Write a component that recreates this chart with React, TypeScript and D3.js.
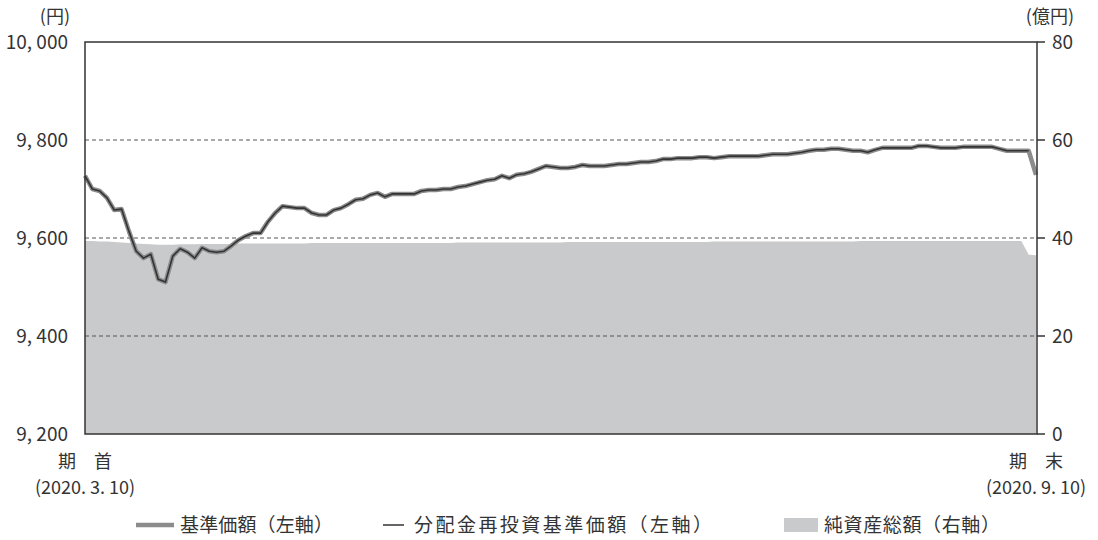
import { useEffect, useRef } from "react";
import * as d3 from "d3";

// 基準価額（円）
const navBase = [
  9727, 9700, 9696, 9682, 9657, 9659, 9614, 9573, 9559, 9567,
  9516, 9510, 9563, 9578, 9571, 9559, 9580, 9573, 9571, 9573,
  9584, 9596, 9604, 9610, 9610, 9633, 9651, 9665, 9663, 9661,
  9661, 9651, 9647, 9647, 9657, 9661, 9669, 9678, 9680, 9688,
  9692, 9684, 9690, 9690, 9690, 9690, 9696, 9698, 9698, 9700,
  9700, 9704, 9706, 9710, 9714, 9718, 9720, 9727, 9722, 9729,
  9731, 9735, 9741, 9747, 9745, 9743, 9743, 9745, 9749, 9747,
  9747, 9747, 9749, 9751, 9751, 9753, 9755, 9755, 9757, 9761,
  9761, 9763, 9763, 9763, 9765, 9765, 9763, 9765, 9767, 9767,
  9767, 9767, 9767, 9769, 9771, 9771, 9771, 9773, 9775, 9778,
  9780, 9780, 9782, 9782, 9780, 9778, 9778, 9775, 9780, 9784,
  9784, 9784, 9784, 9784, 9788, 9788, 9786, 9784, 9784, 9784,
  9786, 9786, 9786, 9786, 9786, 9782, 9778, 9778, 9778, 9778,
  9729
];

// 分配金再投資基準価額（円）
const navReinvested = [
  9727, 9700, 9696, 9682, 9657, 9659, 9614, 9573, 9559, 9567,
  9516, 9510, 9563, 9578, 9571, 9559, 9580, 9573, 9571, 9573,
  9584, 9596, 9604, 9610, 9610, 9633, 9651, 9665, 9663, 9661,
  9661, 9651, 9647, 9647, 9657, 9661, 9669, 9678, 9680, 9688,
  9692, 9684, 9690, 9690, 9690, 9690, 9696, 9698, 9698, 9700,
  9700, 9704, 9706, 9710, 9714, 9718, 9720, 9727, 9722, 9729,
  9731, 9735, 9741, 9747, 9745, 9743, 9743, 9745, 9749, 9747,
  9747, 9747, 9749, 9751, 9751, 9753, 9755, 9755, 9757, 9761,
  9761, 9763, 9763, 9763, 9765, 9765, 9763, 9765, 9767, 9767,
  9767, 9767, 9767, 9769, 9771, 9771, 9771, 9773, 9775, 9778,
  9780, 9780, 9782, 9782, 9780, 9778, 9778, 9775, 9780, 9784,
  9784, 9784, 9784, 9784, 9788, 9788, 9786, 9784, 9784, 9784,
  9786, 9786, 9786, 9786, 9786, 9782, 9778, 9778, 9778, 9778
];

// 純資産総額（億円）
const netAssets = [
  39.4, 39.4, 39.3, 39.3, 39.2, 39.1, 39.0, 38.9, 38.8, 38.7,
  38.6, 38.6, 38.6, 38.7, 38.7, 38.7, 38.8, 38.8, 38.8, 38.8,
  38.8, 38.9, 38.9, 38.9, 38.9, 38.9, 38.9, 38.9, 38.9, 38.9,
  38.9, 39.0, 39.0, 39.0, 39.0, 39.0, 39.0, 39.0, 39.0, 39.0,
  39.0, 39.0, 39.0, 39.0, 39.0, 39.0, 39.0, 39.0, 39.0, 39.0,
  39.0, 39.1, 39.1, 39.1, 39.1, 39.1, 39.1, 39.1, 39.1, 39.1,
  39.1, 39.1, 39.1, 39.1, 39.1, 39.1, 39.2, 39.2, 39.2, 39.2,
  39.2, 39.2, 39.2, 39.2, 39.2, 39.2, 39.2, 39.2, 39.2, 39.2,
  39.2, 39.2, 39.2, 39.2, 39.2, 39.2, 39.3, 39.3, 39.3, 39.3,
  39.3, 39.3, 39.3, 39.3, 39.3, 39.3, 39.3, 39.3, 39.3, 39.3,
  39.3, 39.3, 39.3, 39.3, 39.3, 39.3, 39.4, 39.4, 39.4, 39.4,
  39.4, 39.4, 39.4, 39.4, 39.4, 39.4, 39.4, 39.4, 39.4, 39.4,
  39.4, 39.4, 39.4, 39.4, 39.4, 39.4, 39.4, 39.4, 39.4, 36.6,
  36.5
];

const leftTicks = [9200, 9400, 9600, 9800, 10000];
const leftTickLabels = ["9, 200", "9, 400", "9, 600", "9, 800", "10, 000"];
const rightTicks = [0, 20, 40, 60, 80];
const gridTicks = [9400, 9600, 9800];
const leftUnit = "(円)";
const rightUnit = "(億円)";
const startLabels = ["期　首", "(2020. 3. 10)"];
const endLabels = ["期　末", "(2020. 9. 10)"];
const legendLabels = ["基準価額（左軸）", "分配金再投資基準価額（左軸）", "純資産総額（右軸）"];

const App = () => {
  const svgRef = useRef<SVGSVGElement | null>(null);

  useEffect(() => {
    const svg = d3.select(svgRef.current);
    svg.selectAll("*").remove();

    const width = 1098;
    const height = 540;
    const left = 85;
    const right = 1037;
    const top = 42;
    const bottom = 434;
    const font = "'Noto Sans CJK JP', 'Noto Sans', sans-serif";
    const textColor = "#333";
    const areaColor = "#c9cacc";
    const baseColor = "#8c8c8c";

    svg.attr("width", width).attr("height", height);

    const x = d3.scaleLinear().domain([0, navBase.length - 1]).range([left, 1036]);
    const yL = d3.scaleLinear().domain([9200, 10000]).range([bottom, top]);
    const yR = d3.scaleLinear().domain([0, 80]).range([bottom, top]);

    // 純資産総額
    const area = d3.area<number>()
      .x((_, i) => x(i))
      .y0(yR(0))
      .y1(d => yR(d));
    svg.append("path")
      .datum(netAssets)
      .attr("d", area)
      .attr("fill", areaColor);

    // グリッド
    svg.selectAll("line.grid")
      .data(gridTicks)
      .enter()
      .append("line")
      .attr("class", "grid")
      .attr("x1", left)
      .attr("x2", right)
      .attr("y1", d => yL(d))
      .attr("y2", d => yL(d))
      .attr("stroke", "#555")
      .attr("stroke-width", 1)
      .attr("stroke-dasharray", "4,3");

    // 基準価額
    const line = d3.line<number>()
      .x((_, i) => x(i))
      .y(d => yL(d));
    svg.append("path")
      .datum(navBase)
      .attr("d", line)
      .attr("fill", "none")
      .attr("stroke", baseColor)
      .attr("stroke-width", 4.5)
      .attr("stroke-linejoin", "round");
    svg.append("path")
      .datum(navReinvested)
      .attr("d", line)
      .attr("fill", "none")
      .attr("stroke", "#333")
      .attr("stroke-width", 1.6)
      .attr("stroke-linejoin", "round");

    // 枠
    svg.append("rect")
      .attr("x", left)
      .attr("y", top)
      .attr("width", right - left)
      .attr("height", bottom - top)
      .attr("fill", "none")
      .attr("stroke", "#333")
      .attr("stroke-width", 1.5);

    // 右軸の目盛
    svg.selectAll("line.rtick")
      .data(rightTicks)
      .enter()
      .append("line")
      .attr("class", "rtick")
      .attr("x1", right)
      .attr("x2", right + 8)
      .attr("y1", d => yR(d))
      .attr("y2", d => yR(d))
      .attr("stroke", "#333")
      .attr("stroke-width", 1.5);

    svg.selectAll("text.rlabel")
      .data(rightTicks)
      .enter()
      .append("text")
      .attr("class", "rlabel")
      .attr("x", right + 15)
      .attr("y", d => yR(d))
      .attr("dy", "0.35em")
      .attr("font-family", font)
      .attr("font-size", 19)
      .attr("fill", textColor)
      .text(d => d);

    svg.selectAll("text.llabel")
      .data(leftTicks)
      .enter()
      .append("text")
      .attr("class", "llabel")
      .attr("x", 68)
      .attr("y", d => yL(d))
      .attr("dy", "0.35em")
      .attr("text-anchor", "end")
      .attr("font-family", font)
      .attr("font-size", 19)
      .attr("fill", textColor)
      .text((_, i) => leftTickLabels[i]);

    svg.append("text")
      .attr("x", 70).attr("y", 17).attr("dy", "0.35em")
      .attr("text-anchor", "end")
      .attr("font-family", font).attr("font-size", 18).attr("fill", textColor)
      .text(leftUnit);
    svg.append("text")
      .attr("x", 1074).attr("y", 17).attr("dy", "0.35em")
      .attr("text-anchor", "end")
      .attr("font-family", font).attr("font-size", 18).attr("fill", textColor)
      .text(rightUnit);

    // 期首・期末
    [[startLabels, 85], [endLabels, 1036]].forEach(([labels, cx]) => {
      (labels as string[]).forEach((t, i) => {
        svg.append("text")
          .attr("x", cx as number)
          .attr("y", 462 + i * 26)
          .attr("dy", "0.35em")
          .attr("text-anchor", "middle")
          .attr("font-family", font)
          .attr("font-size", 18)
          .attr("fill", textColor)
          .text(t);
      });
    });

    // 凡例
    const ly = 525;
    svg.append("line")
      .attr("x1", 136).attr("x2", 174).attr("y1", ly).attr("y2", ly)
      .attr("stroke", baseColor).attr("stroke-width", 4.5);
    svg.append("line")
      .attr("x1", 383).attr("x2", 404).attr("y1", ly).attr("y2", ly)
      .attr("stroke", "#333").attr("stroke-width", 1.5);
    svg.append("rect")
      .attr("x", 784).attr("y", ly - 7).attr("width", 34).attr("height", 14)
      .attr("fill", areaColor);
    const legendX = [180, 414, 824];
    const legendLen = [153, 298, 176];
    legendX.forEach((lx, i) => {
      svg.append("text")
        .attr("x", lx)
        .attr("y", ly)
        .attr("dy", "0.35em")
        .attr("font-family", font)
        .attr("font-size", 19)
        .attr("fill", textColor)
        .attr("textLength", legendLen[i])
        .attr("lengthAdjust", "spacing")
        .text(legendLabels[i]);
    });
  }, []);

  return (
    <div style={{ position: "absolute", left: 0, top: 0 }}>
      <svg ref={svgRef} style={{ display: "block" }}></svg>
    </div>
  );
};

export default App;
